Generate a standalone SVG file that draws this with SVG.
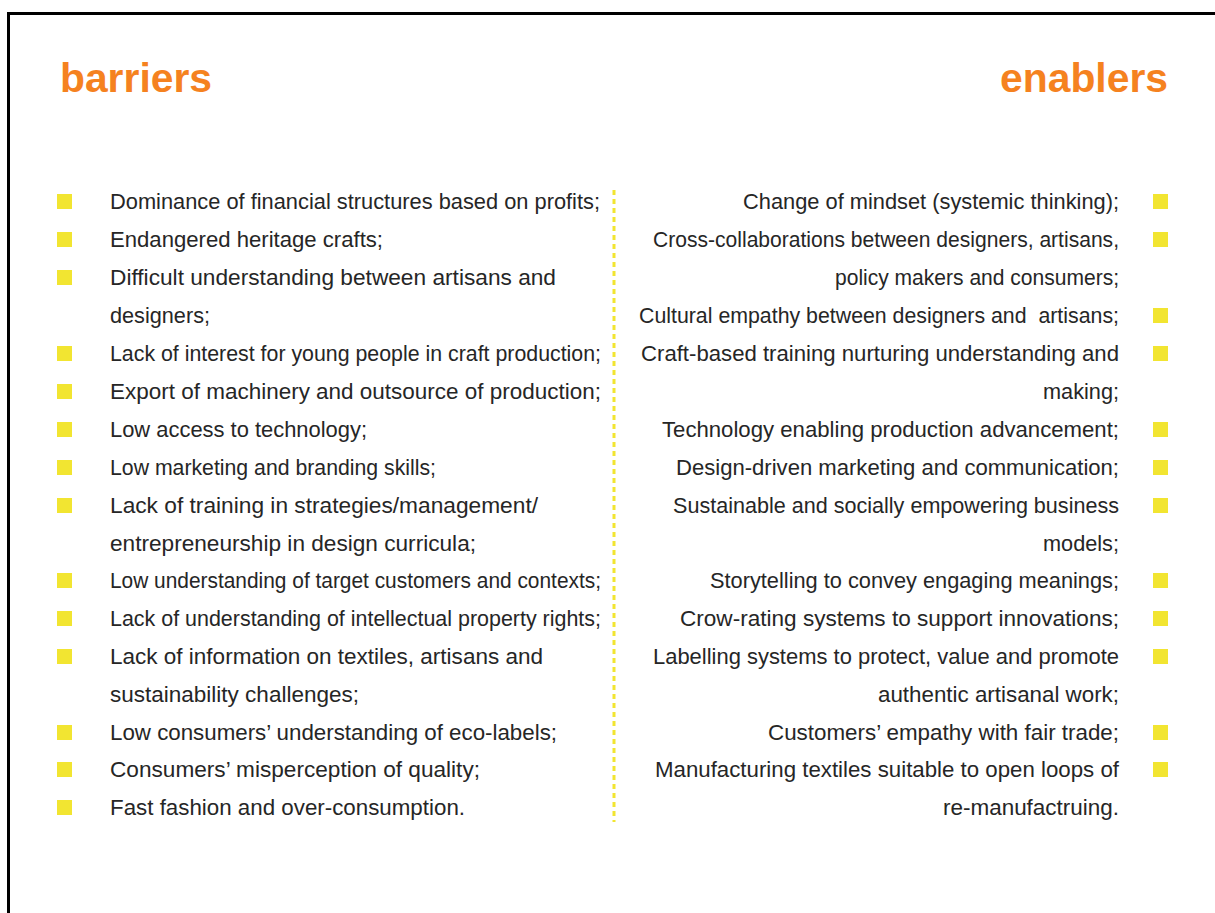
<svg xmlns="http://www.w3.org/2000/svg" width="1215" height="913" viewBox="0 0 1215 913">
<style>
.title{font-family:"Liberation Sans",Arial,sans-serif;font-weight:bold;font-size:40px;fill:#F5821F}
.t{font-family:"Liberation Sans",Arial,sans-serif;font-size:21.5px;fill:#262626}
.r{text-anchor:end}
.b{fill:#F2E531}
</style>
<rect width="1215" height="913" fill="#ffffff"/>
<path d="M8.5,913 V13.5 H1215" fill="none" stroke="#000" stroke-width="3"/>
<g id="headings">
<text class="title" x="60" y="92" textLength="152" lengthAdjust="spacingAndGlyphs">barriers</text>
<text class="title" x="1000" y="92" textLength="168" lengthAdjust="spacingAndGlyphs">enablers</text>
</g>
<g id="divider">
<line x1="614" y1="190" x2="614" y2="822" stroke="#F2E531" stroke-width="3" stroke-dasharray="5 4"/>
</g>
<g id="barriers">
<rect class="b" x="57" y="194" width="15" height="15"/>
<rect class="b" x="57" y="232" width="15" height="15"/>
<rect class="b" x="57" y="270" width="15" height="15"/>
<rect class="b" x="57" y="346" width="15" height="15"/>
<rect class="b" x="57" y="384" width="15" height="15"/>
<rect class="b" x="57" y="422" width="15" height="15"/>
<rect class="b" x="57" y="460" width="15" height="15"/>
<rect class="b" x="57" y="498" width="15" height="15"/>
<rect class="b" x="57" y="573" width="15" height="15"/>
<rect class="b" x="57" y="611" width="15" height="15"/>
<rect class="b" x="57" y="649" width="15" height="15"/>
<rect class="b" x="57" y="725" width="15" height="15"/>
<rect class="b" x="57" y="762" width="15" height="15"/>
<rect class="b" x="57" y="800" width="15" height="15"/>
<text class="t" x="110" y="209" textLength="490" lengthAdjust="spacingAndGlyphs">Dominance of financial structures based on profits;</text>
<text class="t" x="110" y="247" textLength="273" lengthAdjust="spacingAndGlyphs">Endangered heritage crafts;</text>
<text class="t" x="110" y="285" textLength="446" lengthAdjust="spacingAndGlyphs">Difficult understanding between artisans and</text>
<text class="t" x="110" y="323" textLength="100" lengthAdjust="spacingAndGlyphs">designers;</text>
<text class="t" x="110" y="361" textLength="491" lengthAdjust="spacingAndGlyphs">Lack of interest for young people in craft production;</text>
<text class="t" x="110" y="399" textLength="491" lengthAdjust="spacingAndGlyphs">Export of machinery and outsource of production;</text>
<text class="t" x="110" y="437" textLength="257" lengthAdjust="spacingAndGlyphs">Low access to technology;</text>
<text class="t" x="110" y="475" textLength="326" lengthAdjust="spacingAndGlyphs">Low marketing and branding skills;</text>
<text class="t" x="110" y="513" textLength="428" lengthAdjust="spacingAndGlyphs">Lack of training in strategies/management/</text>
<text class="t" x="110" y="551" textLength="366" lengthAdjust="spacingAndGlyphs">entrepreneurship in design curricula;</text>
<text class="t" x="110" y="588" textLength="491" lengthAdjust="spacingAndGlyphs">Low understanding of target customers and contexts;</text>
<text class="t" x="110" y="626" textLength="491" lengthAdjust="spacingAndGlyphs">Lack of understanding of intellectual property rights;</text>
<text class="t" x="110" y="664" textLength="433" lengthAdjust="spacingAndGlyphs">Lack of information on textiles, artisans and</text>
<text class="t" x="110" y="702" textLength="249" lengthAdjust="spacingAndGlyphs">sustainability challenges;</text>
<text class="t" x="110" y="740" textLength="447" lengthAdjust="spacingAndGlyphs">Low consumers’ understanding of eco-labels;</text>
<text class="t" x="110" y="777" textLength="370" lengthAdjust="spacingAndGlyphs">Consumers’ misperception of quality;</text>
<text class="t" x="110" y="815" textLength="355" lengthAdjust="spacingAndGlyphs">Fast fashion and over-consumption.</text>
</g>
<g id="enablers">
<rect class="b" x="1153" y="194" width="15" height="15"/>
<rect class="b" x="1153" y="232" width="15" height="15"/>
<rect class="b" x="1153" y="308" width="15" height="15"/>
<rect class="b" x="1153" y="346" width="15" height="15"/>
<rect class="b" x="1153" y="422" width="15" height="15"/>
<rect class="b" x="1153" y="460" width="15" height="15"/>
<rect class="b" x="1153" y="498" width="15" height="15"/>
<rect class="b" x="1153" y="573" width="15" height="15"/>
<rect class="b" x="1153" y="611" width="15" height="15"/>
<rect class="b" x="1153" y="649" width="15" height="15"/>
<rect class="b" x="1153" y="725" width="15" height="15"/>
<rect class="b" x="1153" y="762" width="15" height="15"/>
<text class="t r" x="1119" y="209" textLength="376" lengthAdjust="spacingAndGlyphs">Change of mindset (systemic thinking);</text>
<text class="t r" x="1119" y="247" textLength="466" lengthAdjust="spacingAndGlyphs">Cross-collaborations between designers, artisans,</text>
<text class="t r" x="1119" y="285" textLength="284" lengthAdjust="spacingAndGlyphs">policy makers and consumers;</text>
<text class="t r" x="1119" y="323" textLength="480" lengthAdjust="spacingAndGlyphs" xml:space="preserve">Cultural empathy between designers and  artisans;</text>
<text class="t r" x="1119" y="361" textLength="478" lengthAdjust="spacingAndGlyphs">Craft-based training nurturing understanding and</text>
<text class="t r" x="1119" y="399" textLength="76" lengthAdjust="spacingAndGlyphs">making;</text>
<text class="t r" x="1119" y="437" textLength="457" lengthAdjust="spacingAndGlyphs">Technology enabling production advancement;</text>
<text class="t r" x="1119" y="475" textLength="443" lengthAdjust="spacingAndGlyphs">Design-driven marketing and communication;</text>
<text class="t r" x="1119" y="513" textLength="446" lengthAdjust="spacingAndGlyphs">Sustainable and socially empowering business</text>
<text class="t r" x="1119" y="551" textLength="76" lengthAdjust="spacingAndGlyphs">models;</text>
<text class="t r" x="1119" y="588" textLength="409" lengthAdjust="spacingAndGlyphs">Storytelling to convey engaging meanings;</text>
<text class="t r" x="1119" y="626" textLength="439" lengthAdjust="spacingAndGlyphs">Crow-rating systems to support innovations;</text>
<text class="t r" x="1119" y="664" textLength="466" lengthAdjust="spacingAndGlyphs">Labelling systems to protect, value and promote</text>
<text class="t r" x="1119" y="702" textLength="241" lengthAdjust="spacingAndGlyphs">authentic artisanal work;</text>
<text class="t r" x="1119" y="740" textLength="351" lengthAdjust="spacingAndGlyphs">Customers’ empathy with fair trade;</text>
<text class="t r" x="1119" y="777" textLength="464" lengthAdjust="spacingAndGlyphs">Manufacturing textiles suitable to open loops of</text>
<text class="t r" x="1119" y="815" textLength="176" lengthAdjust="spacingAndGlyphs">re-manufactruing.</text>
</g>
</svg>
